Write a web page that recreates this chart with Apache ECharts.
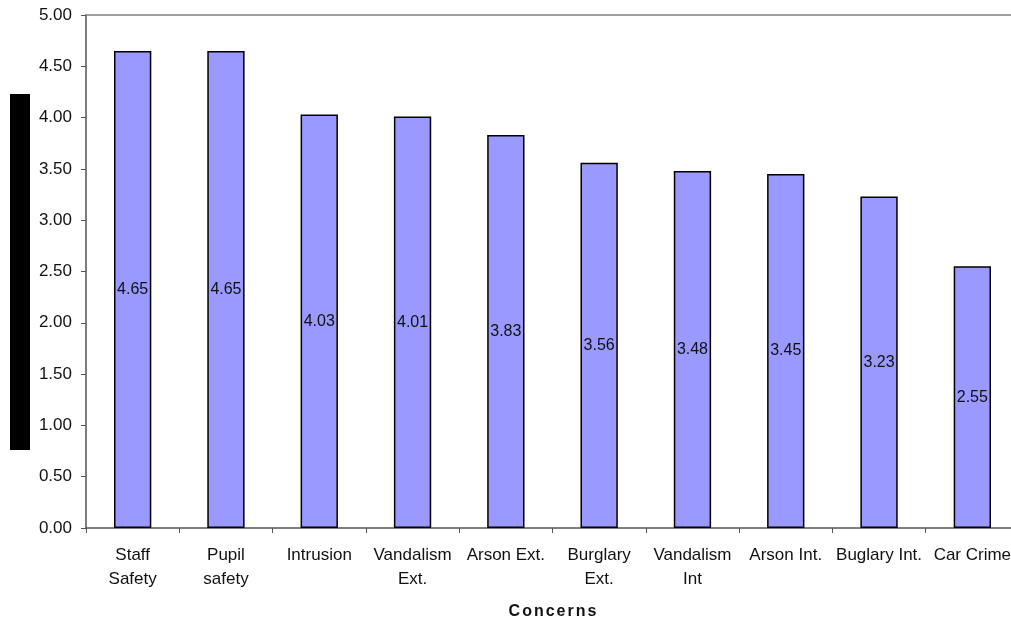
<!DOCTYPE html>
<html>
<head>
<meta charset="utf-8">
<script src="https://cdn.jsdelivr.net/npm/echarts@6/dist/echarts.min.js"></script>
<style>
html, body { margin: 0; padding: 0; background: #fff; }
#chart { width: 1011px; height: 619px; }
</style>
</head>
<body>
<div id="chart"></div>
<script>
// Concern categories and their mean scores
const categories = ['Staff\nSafety', 'Pupil\nsafety', 'Intrusion', 'Vandalism\nExt.', 'Arson Ext.', 'Burglary\nExt.', 'Vandalism\nInt', 'Arson Int.', 'Buglary Int.', 'Car Crime'];
const scores = [4.65, 4.65, 4.03, 4.01, 3.83, 3.56, 3.48, 3.45, 3.23, 2.55];
const yTicks = { min: 0, max: 5, interval: 0.5 };
const xTitle = 'Concerns';

const chart = echarts.init(document.getElementById('chart'), null, { renderer: 'canvas' });
const font = '"Liberation Sans", Arial, sans-serif';

// spaced-out bold axis title, one rich-text run per letter
const spacedTitle = xTitle.split('').map(ch => '{l|' + ch + '}').join('');

chart.setOption({
  animation: false,
  grid: { left: 86, top: 15, width: 933, height: 513, containLabel: false, outerBoundsMode: 'none' },
  xAxis: [
    {
      type: 'category',
      data: categories,
      position: 'bottom',
      axisLine: { lineStyle: { color: '#555', width: 1.5 } },
      axisTick: { show: true, length: 5, lineStyle: { color: '#555' } },
      axisLabel: { color: '#111', fontFamily: font, fontSize: 17, lineHeight: 24, margin: 15, interval: 0 },
      name: spacedTitle,
      nameLocation: 'middle',
      nameGap: 76,
      nameTextStyle: {
        rich: { l: { fontFamily: font, fontSize: 16, fontWeight: 'bold', color: '#111', padding: [0, 1, 0, 1] } }
      }
    },
    {
      type: 'category',
      data: categories,
      position: 'top',
      axisLine: { lineStyle: { color: '#808080', width: 1.5 } },
      axisTick: { show: false },
      axisLabel: { show: false }
    }
  ],
  yAxis: {
    type: 'value',
    min: yTicks.min,
    max: yTicks.max,
    interval: yTicks.interval,
    axisLine: { show: true, lineStyle: { color: '#555', width: 1.5 } },
    axisTick: { show: true, length: 5, lineStyle: { color: '#555' } },
    splitLine: { show: false },
    axisLabel: { color: '#111', fontFamily: font, fontSize: 17, margin: 14, formatter: v => v.toFixed(2) }
  },
  series: [{
    type: 'bar',
    data: scores,
    barWidth: '40%',
    itemStyle: { color: '#9999FF', borderColor: '#000', borderWidth: 1.5 },
    label: {
      show: true,
      position: 'inside',
      color: '#111',
      fontFamily: font,
      fontSize: 16,
      formatter: p => p.value.toFixed(2)
    }
  }],
  graphic: [{
    type: 'rect',
    left: 10,
    top: 94,
    shape: { width: 20, height: 356 },
    style: { fill: '#000' }
  }]
});
</script>
</body>
</html>
